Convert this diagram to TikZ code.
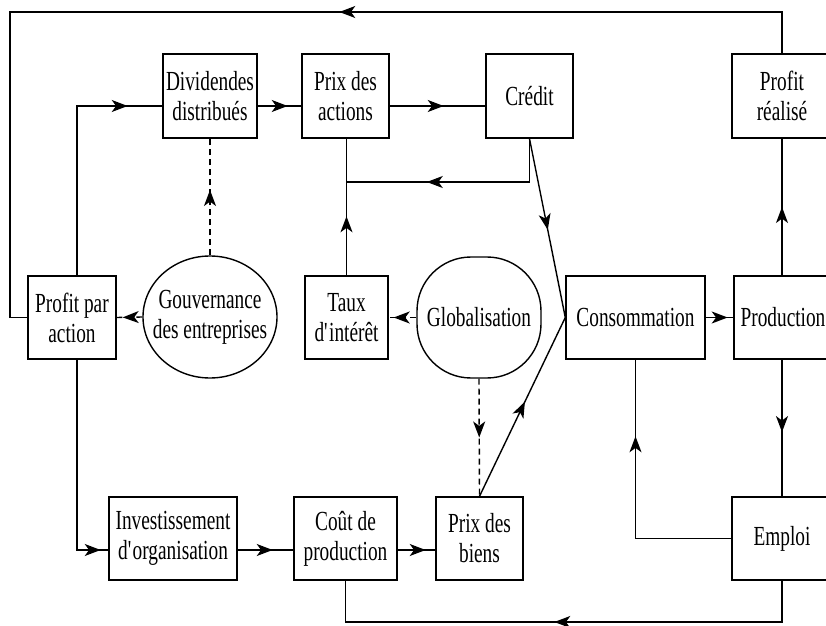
\documentclass[tikz,border=0pt]{standalone}
\usepackage{fontspec}
\setmainfont[FakeStretch=0.70]{Liberation Serif}
\usetikzlibrary{arrows.meta,shapes.geometric,decorations.markings,calc}
\begin{document}
\begin{tikzpicture}[x=0.5pt,y=-0.5pt,
  line width=0.7pt,
  every node/.style={font=\fontsize{13.8}{15}\selectfont},
  box/.style={draw,rectangle,align=center,inner sep=1pt},
  oval/.style={draw,ellipse,align=center,inner xsep=-5pt,inner ysep=4pt},
  squircle/.style={draw,rectangle,rounded corners=27pt,align=center,inner sep=1pt},
  markat/.style={postaction={decorate},decoration={markings,mark=at position #1 with {\arrow[solid]{Stealth[length=8pt,width=6pt,inset=2.2pt]}}}},
  dsh/.style={dash pattern=on 3pt off 2pt}
]
\useasboundingbox (0,0) rectangle (826,626);

% levels
\coordinate (ytop) at (0,106);
\coordinate (yjn) at (0,182);
\coordinate (ybot) at (0,550);
\coordinate (ybt) at (0,622);
\coordinate (xL) at (77,0);
\coordinate (c1) at (10,12);

% nodes
\node[box,minimum width=47pt,minimum height=42pt] (div) at (210,96) {Dividendes\\distribués};
\node[box,minimum width=43.5pt,minimum height=42pt] (pda) at (345.5,96) {Prix des\\actions};
\node[box,minimum width=43.5pt,minimum height=42pt] (cred) at (529.5,96) {Crédit};
\node[box,minimum width=50pt,minimum height=42pt] (pr) at (782,96) {Profit\\réalisé};
\node[box,minimum width=44pt,minimum height=41.5pt] (ppa) at (72,317.5) {Profit par\\action};
\node[oval,minimum width=67pt,minimum height=61pt] (gouv) at (210,317) {Gouvernance\\des entreprises};
\node[box,minimum width=41.5pt,minimum height=41.5pt] (taux) at (346.5,317.5) {Taux\\d\textquotesingle intérêt};
\node[squircle,minimum width=62pt,minimum height=60.5pt] (glob) at (479,317.5) {Globalisation};
\node[box,minimum width=69.5pt,minimum height=41.5pt] (cons) at (635.5,317.5) {Consommation};
\node[box,minimum width=49pt,minimum height=41.5pt] (prod) at (783,317.5) {Production};
\node[box,minimum width=64pt,minimum height=41.5pt] (inv) at (173,538.5) {Investissement\\d\textquotesingle organisation};
\node[box,minimum width=51.5pt,minimum height=41.5pt] (cout) at (345.5,538.5) {Coût de\\production};
\node[box,minimum width=43.5pt,minimum height=41.5pt] (pdb) at (479.5,538.5) {Prix des\\biens};
\node[box,minimum width=50pt,minimum height=41.5pt] (emp) at (782,538.5) {Emploi};

% connectors
\draw[markat=242pt] (pr.north) |- (c1) |- (ppa.west);
\draw[markat=110pt] (ppa.north -| xL) |- (div.west |- ytop);
\draw[markat=15pt] (div.east |- ytop) -- (pda.west |- ytop);
\draw[markat=27pt] (pda.east |- ytop) -- (cred.west |- ytop);
\draw[markat=73pt] (cred.south) |- (pda.south |- yjn);
\draw[markat=29.5pt] (taux.north) -- (taux.north |- pda.south);
\draw[markat=0.51] (cred.south) -- (cons.west);
\draw[markat=0.53] (pdb.north) -- (cons.west);
\draw[dsh,markat=-3pt] (gouv.west) -- (ppa.east);
\draw[dsh,markat=0.56] (gouv.north) -- (div.south);
\draw[dsh,markat=-2.5pt] (glob.west) -- (taux.east);
\draw[dsh,markat=0.5] (glob.south) -- (pdb.north);
\draw[markat=11pt] (cons.east) -- (prod.west);
\draw[markat=0.5] (pr.south |- prod.north) -- (pr.south);
\draw[markat=0.53] (pr.south |- prod.south) -- (emp.north);
\draw[markat=99pt] (emp.west) -| (cons.south);
\draw[markat=134.5pt] (emp.south) |- (cout.south |- ybt) -- (cout.south);
\draw[markat=107pt] (ppa.south -| xL) |- (inv.west |- ybot);
\draw[markat=17.5pt] (inv.east |- ybot) -- (cout.west |- ybot);
\draw[markat=14pt] (cout.east |- ybot) -- (pdb.west |- ybot);
\end{tikzpicture}
\end{document}
